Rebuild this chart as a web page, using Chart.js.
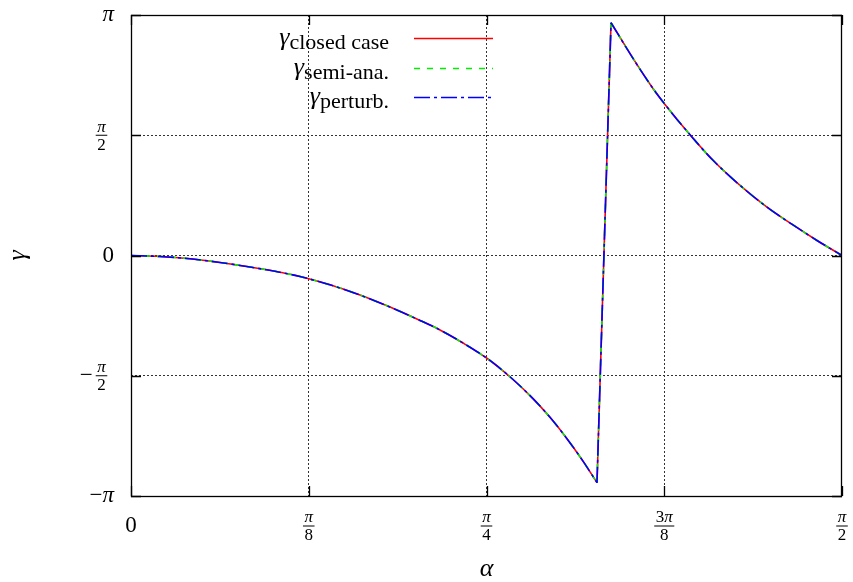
<!DOCTYPE html>
<html>
<head>
<meta charset="utf-8">
<script src="https://cdn.jsdelivr.net/npm/chart.js@4.4.1/dist/chart.umd.min.js"></script>
<style>
  html, body { margin: 0; padding: 0; background: #fff; }
  #wrap { width: 853px; height: 582px; }
</style>
</head>
<body>
<div id="wrap"><canvas id="c" width="853" height="582"></canvas></div>
<script>
const PI = Math.PI;

// ── DATA (radians) ───────────────────────────
const alpha = [0, 0.0641, 0.1303, 0.1966, 0.2629, 0.3181, 0.3734, 0.4396, 0.5059, 0.5722,
  0.6385, 0.6827, 0.7335, 0.7887, 0.8373, 0.8881, 0.9257, 0.9632, 0.9986, 1.0295,
  1.0605, 1.1091, 1.1532, 1.1820, 1.2350, 1.2858, 1.3455, 1.4051, 1.4625, 1.5156, 1.5708];
const gammaClosed = [0, -0.0131, -0.0432, -0.0916, -0.1505, -0.2068, -0.2749, -0.3835, -0.5171, -0.6741,
  -0.8482, -0.9726, -1.1428, -1.3522, -1.5839, -1.8692, -2.1140, -2.3928, -2.6861, -2.9675,
  3.0408, 2.5748, 2.1821, 1.9569, 1.5773, 1.2435, 0.9163, 0.6322, 0.3992, 0.1963, 0];
const gammaSemi = [0, -0.0131, -0.0432, -0.0916, -0.1505, -0.2068, -0.2749, -0.3835, -0.5171, -0.6741,
  -0.8482, -0.9726, -1.1428, -1.3522, -1.5839, -1.8692, -2.1140, -2.3928, -2.6861, -2.9675,
  3.0408, 2.5748, 2.1821, 1.9569, 1.5773, 1.2435, 0.9163, 0.6322, 0.3992, 0.1963, 0];
const gammaPerturb = [0, -0.0131, -0.0432, -0.0916, -0.1505, -0.2068, -0.2749, -0.3835, -0.5171, -0.6741,
  -0.8482, -0.9726, -1.1428, -1.3522, -1.5839, -1.8692, -2.1140, -2.3928, -2.6861, -2.9675,
  3.0408, 2.5748, 2.1821, 1.9569, 1.5773, 1.2435, 0.9163, 0.6322, 0.3992, 0.1963, 0];

const xTicks = [0, PI / 8, PI / 4, 3 * PI / 8, PI / 2];
const xTickLabels = [{ t: '0' }, { n: 'π', d: '8' }, { n: 'π', d: '4' }, { n: '3π', d: '8' }, { n: 'π', d: '2' }];
const yTicks = [-PI, -PI / 2, 0, PI / 2, PI];
const yTickLabels = [{ t: '−π' }, { s: '−', n: 'π', d: '2' }, { t: '0' }, { n: 'π', d: '2' }, { t: 'π' }];

const seriesNames = ['closed case', 'semi-ana.', 'perturb.'];
const seriesColors = ['#ff0000', '#00ee00', '#0000ff'];
const seriesDash = [[], [6, 7], [16, 4, 3, 4]];

const SERIF = '"Liberation Serif", "DejaVu Serif", serif';

// the curve wraps from -pi to +pi: smooth pieces either side, straight jump between
const MIN_I = 19, TOP_I = 20;
const pieces = [[0, MIN_I, 'monotone'], [MIN_I, TOP_I, 'default'], [TOP_I, alpha.length - 1, 'monotone']];
const pts = (ys, from, to) => alpha.slice(from, to + 1).map((a, i) => ({ x: a, y: ys[from + i] }));

// ── DECORATIONS ──────────────────────────────
// plain label; pi drawn in italic like TeX math
function drawMath(ctx, str, x, y, size, align) {
  const parts = str.split(/(π)/).filter(Boolean);
  const fonts = parts.map(p => (p === 'π' ? 'italic ' : '') + `${size}px ${SERIF}`);
  const widths = parts.map((p, i) => { ctx.font = fonts[i]; return ctx.measureText(p).width; });
  const total = widths.reduce((s, w) => s + w, 0);
  let cx = align === 'right' ? x - total : align === 'center' ? x - total / 2 : x;
  ctx.textAlign = 'left';
  parts.forEach((p, i) => { ctx.font = fonts[i]; ctx.fillText(p, cx, y); cx += widths[i]; });
  return total;
}

function drawFrac(ctx, lab, x, y, small) {
  ctx.font = `${small}px ${SERIF}`;
  const w = Math.max(ctx.measureText(lab.n).width, ctx.measureText(lab.d).width) + 3;
  drawMath(ctx, lab.n, x, y - 8, small, 'center');
  drawMath(ctx, lab.d, x, y + 10, small, 'center');
  ctx.fillRect(x - w / 2, y - 0.5, w, 1);
  if (lab.s) drawMath(ctx, lab.s, x - w / 2 - 3, y, 23, 'right');
}

const frame = {
  id: 'frame',
  afterDatasetsDraw(chart) {
    const { ctx, chartArea: a, scales } = chart;
    ctx.save();
    ctx.strokeStyle = '#000';
    ctx.lineWidth = 1.3;
    ctx.strokeRect(a.left + 0.5, a.top + 0.5, a.right - a.left - 1, a.bottom - a.top);
    // inward tics on all four sides
    ctx.beginPath();
    xTicks.forEach(v => {
      const px = Math.round(scales.x.getPixelForValue(v)) + 0.5;
      ctx.moveTo(px, a.bottom); ctx.lineTo(px, a.bottom - 10);
      ctx.moveTo(px, a.top); ctx.lineTo(px, a.top + 10);
    });
    yTicks.forEach(v => {
      const py = Math.round(scales.y.getPixelForValue(v)) + 0.5;
      ctx.moveTo(a.left, py); ctx.lineTo(a.left + 10, py);
      ctx.moveTo(a.right, py); ctx.lineTo(a.right - 10, py);
    });
    ctx.stroke();

    // tick labels
    ctx.fillStyle = '#000';
    ctx.textBaseline = 'middle';
    xTicks.forEach((v, i) => {
      const px = scales.x.getPixelForValue(v);
      const lab = xTickLabels[i];
      if (lab.t) drawMath(ctx, lab.t, px, 526, 23, 'center');
      else drawFrac(ctx, lab, px, 526, 17);
    });
    yTicks.forEach((v, i) => {
      const py = scales.y.getPixelForValue(v);
      const lab = yTickLabels[i];
      if (lab.t) drawMath(ctx, lab.t, 114, py, 23, 'right');
      else drawFrac(ctx, lab, 101.5, py, 17);
    });

    // axis titles
    ctx.font = `italic 26px ${SERIF}`;
    ctx.textAlign = 'center';
    ctx.fillText('α', (a.left + a.right) / 2, 569);
    ctx.save();
    ctx.translate(18, (a.top + a.bottom) / 2);
    ctx.rotate(-Math.PI / 2);
    ctx.fillText('γ', 0, 0);
    ctx.restore();

    // key
    const keyY = [38, 68, 97];
    ctx.textBaseline = 'alphabetic';
    seriesNames.forEach((name, i) => {
      const y = keyY[i];
      ctx.textAlign = 'right';
      ctx.font = `22px ${SERIF}`;
      const sw = ctx.measureText(name).width;
      ctx.fillText(name, 389, y + 11);
      ctx.font = `italic 26px ${SERIF}`;
      ctx.fillText('γ', 389 - sw, y + 7);
      ctx.beginPath();
      ctx.strokeStyle = seriesColors[i];
      ctx.lineWidth = 1.6;
      ctx.setLineDash(seriesDash[i]);
      ctx.moveTo(414, y + 0.5);
      ctx.lineTo(493, y + 0.5);
      ctx.stroke();
      ctx.setLineDash([]);
    });
    ctx.restore();
  }
};

const whiteBg = {
  id: 'whiteBg',
  beforeDraw(chart) {
    const c = chart.ctx;
    c.save(); c.fillStyle = '#fff'; c.fillRect(0, 0, chart.width, chart.height); c.restore();
  }
};

// ── CHART ────────────────────────────────────
// interior grid lines only; edges are the frame
const gridColor = ctx => (ctx.index === 0 || ctx.index === 4) ? 'rgba(0,0,0,0)' : '#333';

const datasets = [];
[gammaClosed, gammaSemi, gammaPerturb].forEach((ys, i) => {
  pieces.forEach(([from, to, mode]) => {
    datasets.push({
      label: seriesNames[i],
      data: pts(ys, from, to),
      borderColor: seriesColors[i],
      borderWidth: 1.6,
      borderDash: seriesDash[i],
      pointRadius: 0,
      fill: false,
      tension: 0,
      cubicInterpolationMode: mode,
      order: 3 - i
    });
  });
});

new Chart(document.getElementById('c'), {
  type: 'line',
  data: { datasets },
  options: {
    responsive: false,
    animation: false,
    events: [],
    layout: { padding: { left: 131, right: 11, top: 15, bottom: 86 } },
    plugins: { legend: { display: false }, tooltip: { enabled: false } },
    scales: {
      x: {
        type: 'linear', min: 0, max: PI / 2,
        afterBuildTicks: s => { s.ticks = xTicks.map(v => ({ value: v })); },
        ticks: { display: false },
        border: { display: false, dash: [2, 2] },
        grid: { color: gridColor, lineWidth: 1, drawTicks: false, tickLength: 0 },
      },
      y: {
        type: 'linear', min: -PI, max: PI,
        afterBuildTicks: s => { s.ticks = yTicks.map(v => ({ value: v })); },
        ticks: { display: false },
        border: { display: false, dash: [2, 2] },
        grid: { color: gridColor, lineWidth: 1, drawTicks: false, tickLength: 0 },
      }
    }
  },
  plugins: [whiteBg, frame]
});
</script>
</body>
</html>
